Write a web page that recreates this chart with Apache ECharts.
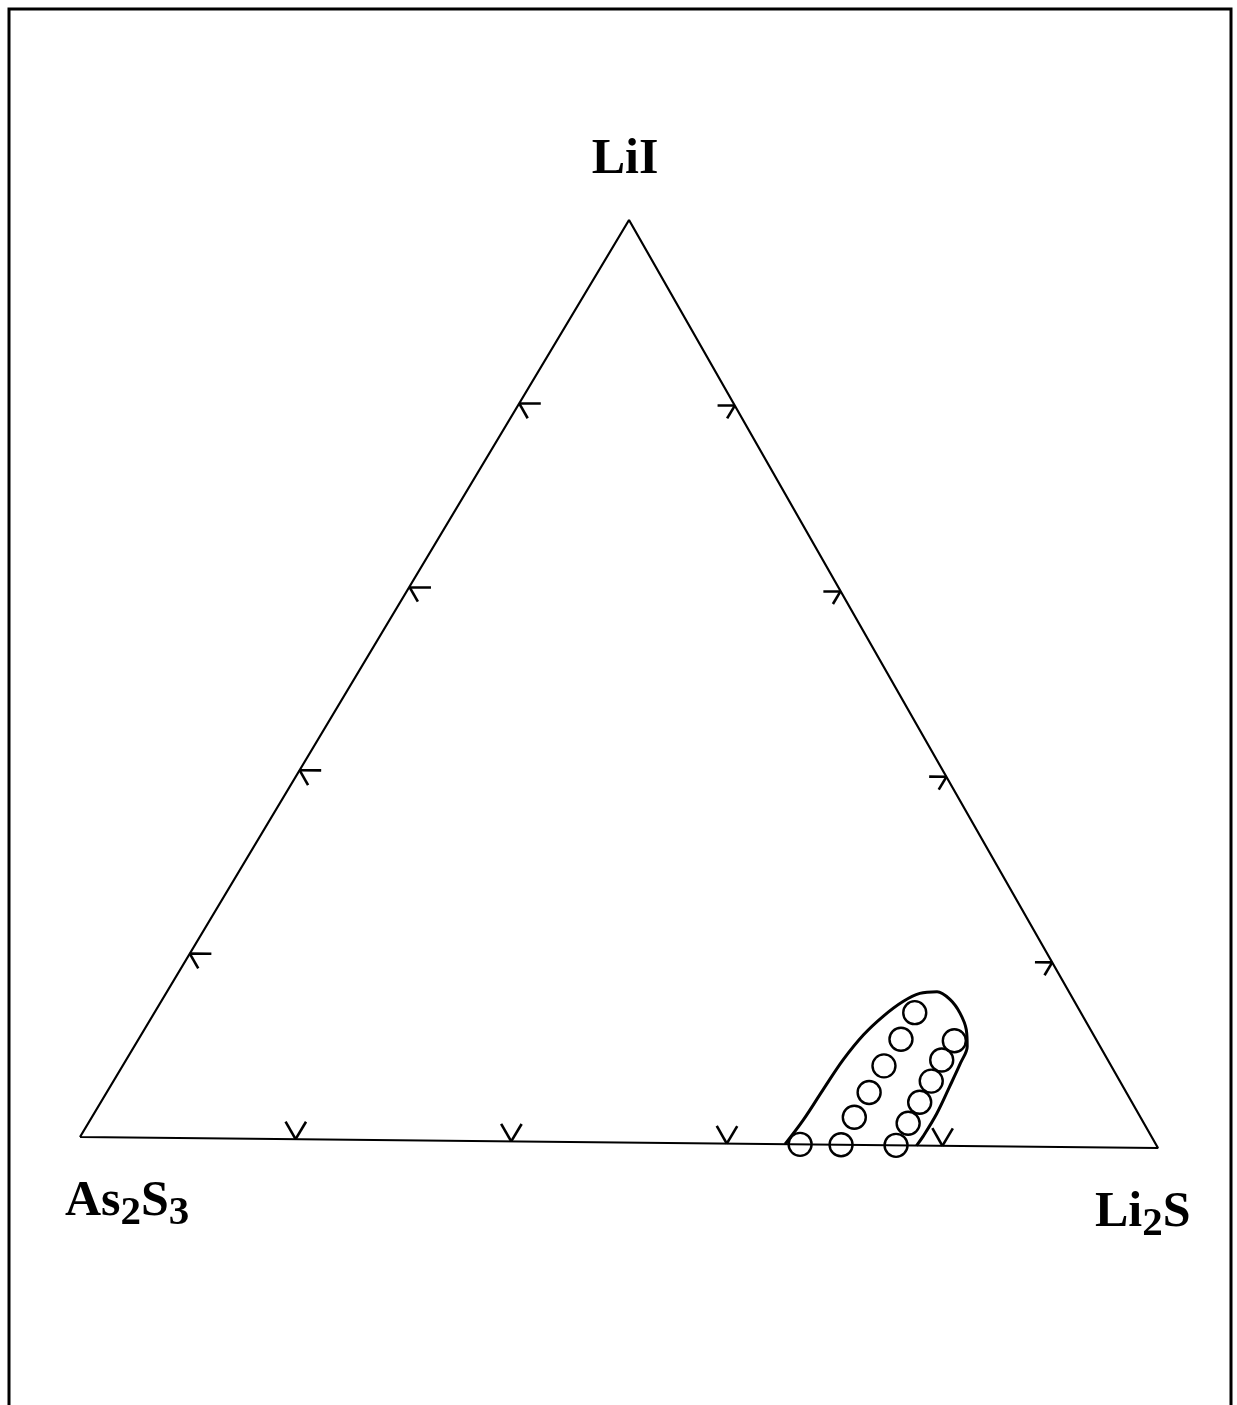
<!DOCTYPE html>
<html>
<head>
<meta charset="utf-8">
<script src="https://cdn.jsdelivr.net/npm/echarts@6/dist/echarts.min.js"></script>
<style>
  html, body { margin: 0; padding: 0; background: #fff; }
  #chart { width: 1237px; height: 1405px; }
</style>
</head>
<body>
<div id="chart"></div>
<script>
// Ternary diagram LiI – As2S3 – Li2S (mole fractions)
const cornerNames = ['As2S3', 'Li2S', 'LiI'];
const tickFractions = [0.2, 0.4, 0.6, 0.8];

// Glassy samples: Li2S and LiI fractions, As2S3 is the balance
const sampleLi2S = [0.668, 0.706, 0.757, 0.703, 0.703, 0.702, 0.703, 0.701, 0.756, 0.755, 0.754, 0.752, 0.753];
const sampleLiI  = [0.000, 0.000, 0.000, 0.030, 0.057, 0.086, 0.115, 0.144, 0.024, 0.047, 0.070, 0.093, 0.114];

// Outline of the glass-forming region
const regionLi2S = [0.654, 0.6575, 0.659, 0.661, 0.666, 0.674, 0.684, 0.695, 0.710, 0.7265, 0.743, 0.758, 0.768, 0.771, 0.774, 0.777, 0.777, 0.776];
const regionLiI  = [0.000, 0.0265, 0.059, 0.092, 0.1195, 0.140, 0.156, 0.165, 0.167, 0.1585, 0.144, 0.126, 0.108, 0.090, 0.064, 0.035, 0.010, 0.000];

// Corner positions of the triangle in plot units (slightly tilted base)
const CORNER_POS = { As2S3: [0, 0], Li2S: [1, -0.012], LiI: [0.5093, 1] };

// composition (As2S3, Li2S, LiI) -> plot coordinates
function project(a, b, c) {
  const A = CORNER_POS.As2S3, B = CORNER_POS.Li2S, C = CORNER_POS.LiI;
  return [a * A[0] + b * B[0] + c * C[0], a * A[1] + b * B[1] + c * C[1]];
}
function projectLi(li2s, lii) { return project(1 - li2s - lii, li2s, lii); }

// triangle outline
const frame = [project(1, 0, 0), project(0, 1, 0), project(0, 0, 1), project(1, 0, 0)];

// tick marks: two short strokes along the grid directions at each fraction
const TL = { leftH: 0.02, leftD: 0.016, rightH: 0.016, rightD: 0.014, base: 0.019 };
const tickSegs = [];
tickFractions.forEach(function (t) {
  // As2S3–LiI edge
  let p = project(1 - t, 0, t);
  tickSegs.push({ coords: [p, project(1 - t - TL.leftH, TL.leftH, t)] });
  tickSegs.push({ coords: [p, project(1 - t, TL.leftD, t - TL.leftD)] });
  // Li2S–LiI edge
  p = project(0, 1 - t, t);
  tickSegs.push({ coords: [p, project(TL.rightH, 1 - t - TL.rightH, t)] });
  tickSegs.push({ coords: [p, project(TL.rightD, 1 - t, t - TL.rightD)] });
  // As2S3–Li2S edge
  p = project(1 - t, t, 0);
  tickSegs.push({ coords: [p, project(1 - t, t - TL.base, TL.base)] });
  tickSegs.push({ coords: [p, project(1 - t - TL.base, t, TL.base)] });
});

const samples = sampleLi2S.map(function (b, i) { return projectLi(b, sampleLiI[i]); });
const region = regionLi2S.map(function (b, i) { return projectLi(b, regionLiI[i]); });

// Chemical formula labels with subscripted digits
const FONT_FAMILY = '"Liberation Serif", "Times New Roman", serif';
const measureCtx = document.createElement('canvas').getContext('2d');
function formulaLabel(formula, x, baseline, size, subSize, subDrop, centered) {
  const parts = formula.match(/[0-9]+|[^0-9]+/g).map(function (s) {
    const sub = /^[0-9]+$/.test(s);
    return { text: s, size: sub ? subSize : size, drop: sub ? subDrop : 0 };
  });
  let total = 0;
  parts.forEach(function (p) {
    p.font = 'bold ' + p.size + 'px ' + FONT_FAMILY;
    measureCtx.font = p.font;
    p.w = measureCtx.measureText(p.text).width;
    total += p.w;
  });
  let cx = centered ? x - total / 2 : x;
  return parts.map(function (p) {
    const el = {
      type: 'text', x: cx, y: baseline + p.drop - 0.3375 * p.size, silent: true,
      style: { text: p.text, font: p.font, fill: '#000', align: 'left', verticalAlign: 'middle' }
    };
    cx += p.w;
    return el;
  });
}

const labels = []
  .concat(formulaLabel(cornerNames[2], 625, 177, 50, 40, 8, true))
  .concat(formulaLabel(cornerNames[0], 65, 1219, 50, 41, 8, false))
  .concat(formulaLabel(cornerNames[1], 1095, 1230, 50, 41, 8, false));

const chart = echarts.init(document.getElementById('chart'), null, { renderer: 'canvas' });
chart.setOption({
  animation: false,
  backgroundColor: '#fff',
  grid: { left: 80, width: 1078, top: 220, height: 962.85, containLabel: false },
  xAxis: { type: 'value', min: 0, max: 1, show: false },
  yAxis: { type: 'value', min: -0.05, max: 1, show: false },
  graphic: [
    {
      type: 'polyline', silent: true,
      shape: { points: [[9, 1405], [9, 9], [1231, 9], [1231, 1405]] },
      style: { stroke: '#000', lineWidth: 3, fill: null }
    }
  ].concat(labels),
  series: [
    {
      type: 'line', data: frame, symbol: 'none', clip: false, silent: true,
      lineStyle: { color: '#000', width: 2.2 }
    },
    {
      type: 'lines', coordinateSystem: 'cartesian2d', data: tickSegs, silent: true,
      lineStyle: { color: '#000', width: 2.6, opacity: 1 }
    },
    {
      type: 'line', data: region, symbol: 'none', smooth: 0.35, clip: false, silent: true,
      lineStyle: { color: '#000', width: 3 }
    },
    {
      type: 'scatter', data: samples, symbol: 'circle', symbolSize: 23, clip: false, silent: true,
      itemStyle: { color: 'rgba(0,0,0,0)', borderColor: '#000', borderWidth: 2.4, opacity: 1 }
    }
  ]
});
</script>
</body>
</html>
